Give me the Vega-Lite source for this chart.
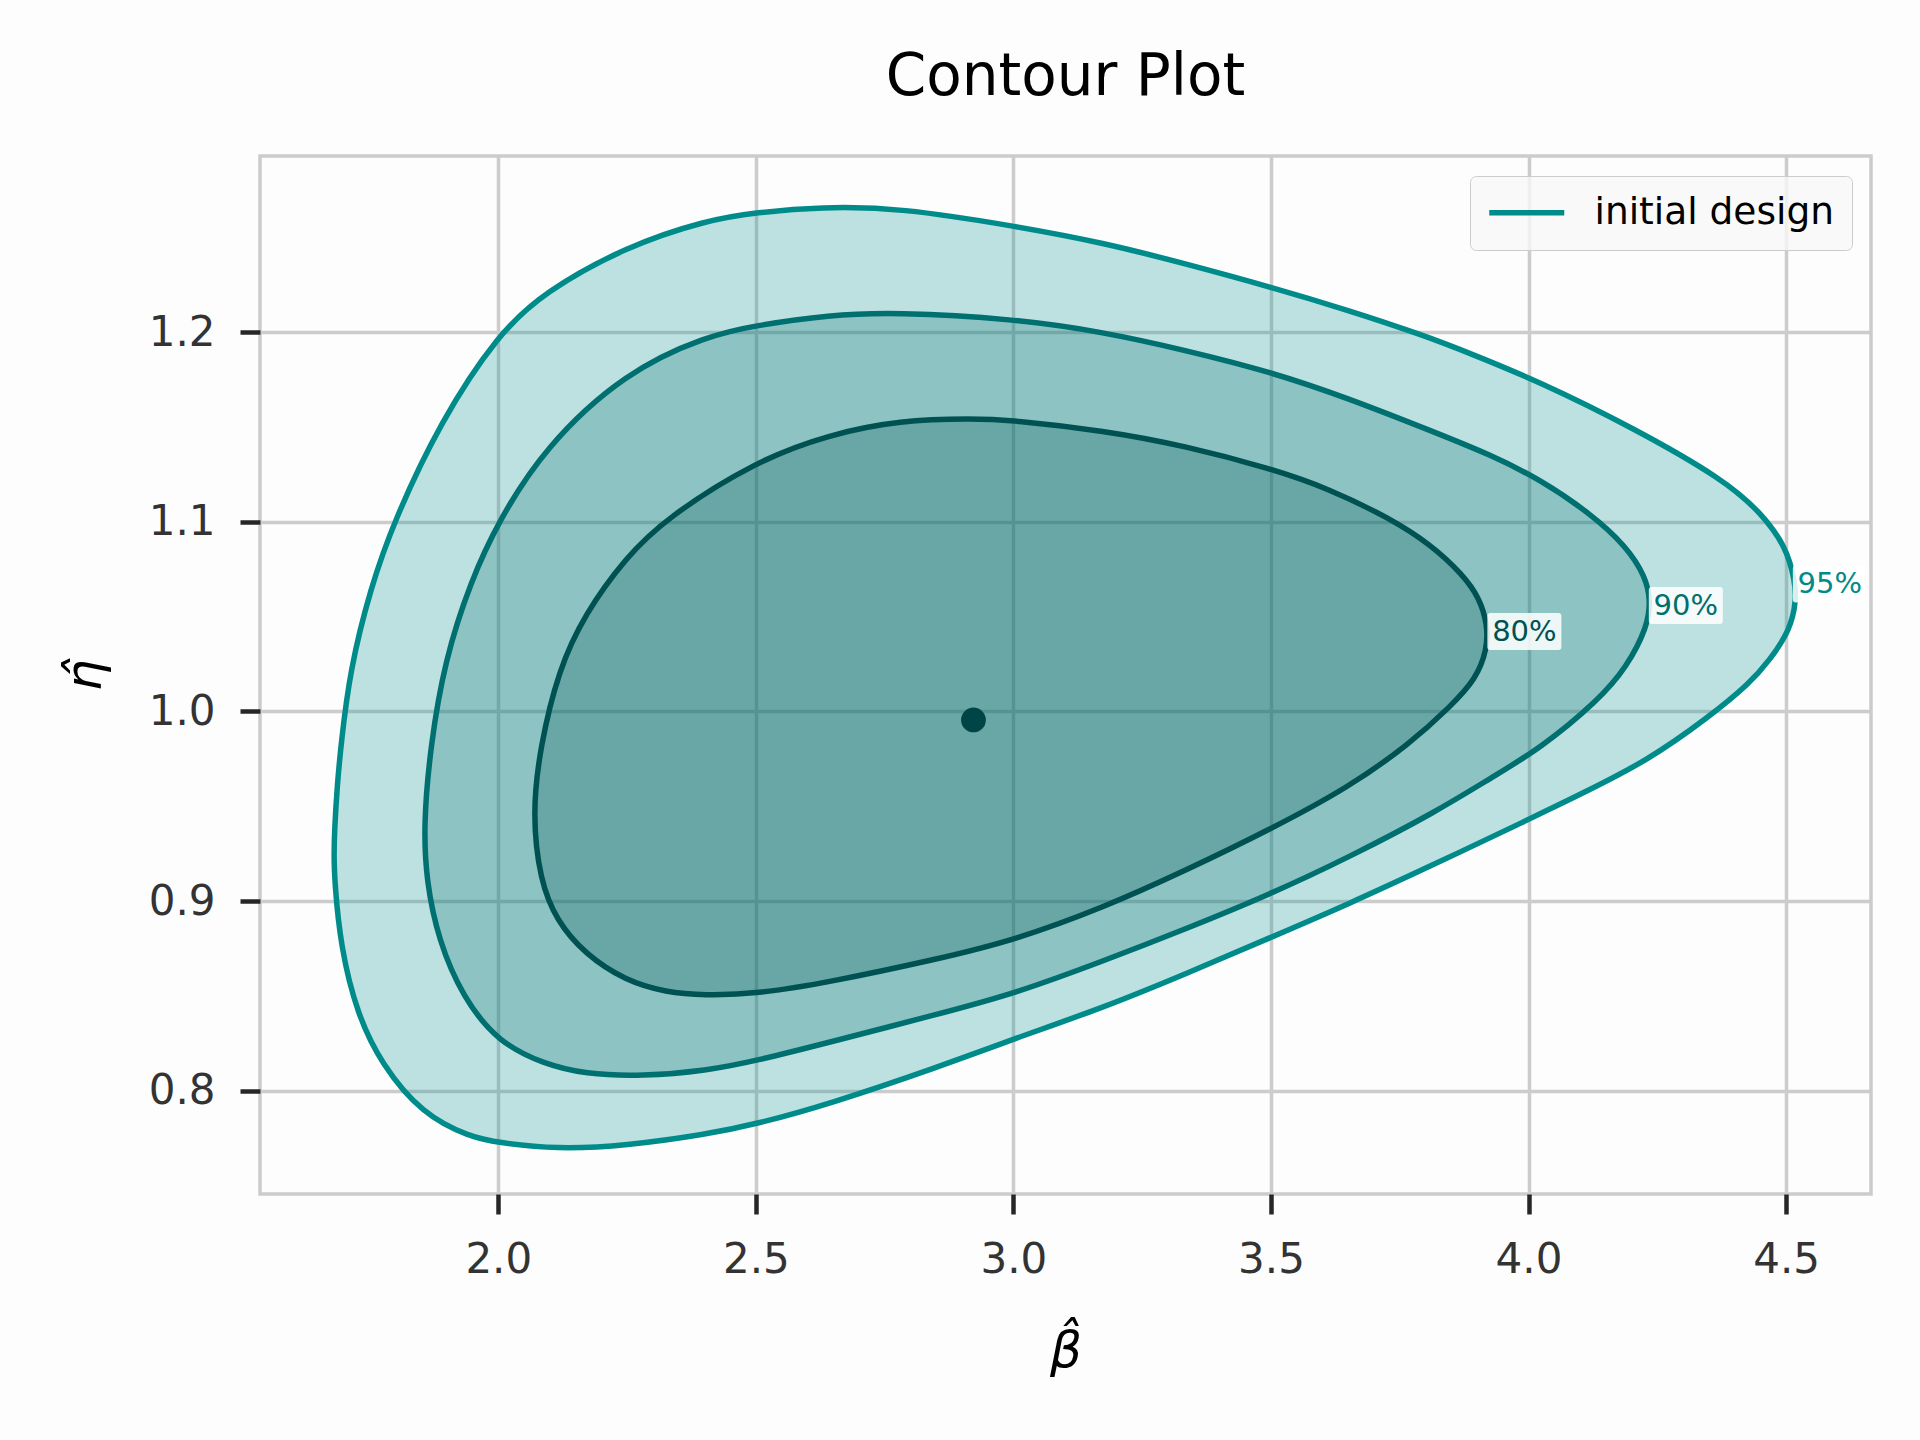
{
  "$schema": "https://vega.github.io/schema/vega-lite/v6.json",
  "width": 1611,
  "height": 1038,
  "autosize": "none",
  "padding": {"left": 260, "top": 156, "right": 49, "bottom": 246},
  "background": "#fdfdfd",
  "title": {
    "text": "Contour Plot",
    "font": "DejaVu Sans",
    "fontSize": 58,
    "fontWeight": "normal",
    "color": "#000000",
    "anchor": "middle",
    "baseline": "alphabetic",
    "offset": 3
  },
  "config": {
    "view": {"stroke": "#cccccc", "strokeWidth": 3.5},
    "axis": {
      "domain": false,
      "grid": true,
      "gridColor": "#cccccc",
      "gridWidth": 3.5,
      "tickColor": "#262626",
      "tickWidth": 4.5,
      "tickSize": 20,
      "labelFont": "DejaVu Sans",
      "labelFontSize": 42,
      "labelColor": "#333333",
      "labelPadding": 25,
      "labelFlush": false,
      "labelOverlap": false,
      "titleFont": "DejaVu Sans",
      "titleFontSize": 50,
      "titleFontStyle": "italic",
      "titleFontWeight": "normal",
      "titleColor": "#000000",
      "titleBaseline": "alphabetic"
    }
  },
  "datasets": {
    "contours": [
      {"level": "95%", "i": 0, "beta": 1.681, "eta": 0.925},
      {"level": "95%", "i": 1, "beta": 1.682, "eta": 0.937},
      {"level": "95%", "i": 2, "beta": 1.687, "eta": 0.960},
      {"level": "95%", "i": 3, "beta": 1.694, "eta": 0.981},
      {"level": "95%", "i": 4, "beta": 1.712, "eta": 1.022},
      {"level": "95%", "i": 5, "beta": 1.752, "eta": 1.065},
      {"level": "95%", "i": 6, "beta": 1.797, "eta": 1.100},
      {"level": "95%", "i": 7, "beta": 1.888, "eta": 1.153},
      {"level": "95%", "i": 8, "beta": 2.000, "eta": 1.199},
      {"level": "95%", "i": 9, "beta": 2.089, "eta": 1.221},
      {"level": "95%", "i": 10, "beta": 2.247, "eta": 1.245},
      {"level": "95%", "i": 11, "beta": 2.405, "eta": 1.259},
      {"level": "95%", "i": 12, "beta": 2.500, "eta": 1.263},
      {"level": "95%", "i": 13, "beta": 2.626, "eta": 1.266},
      {"level": "95%", "i": 14, "beta": 2.780, "eta": 1.2655},
      {"level": "95%", "i": 15, "beta": 3.000, "eta": 1.256},
      {"level": "95%", "i": 16, "beta": 3.176, "eta": 1.247},
      {"level": "95%", "i": 17, "beta": 3.334, "eta": 1.236},
      {"level": "95%", "i": 18, "beta": 3.500, "eta": 1.2237},
      {"level": "95%", "i": 19, "beta": 3.651, "eta": 1.2114},
      {"level": "95%", "i": 20, "beta": 3.794, "eta": 1.1985},
      {"level": "95%", "i": 21, "beta": 3.889, "eta": 1.1885},
      {"level": "95%", "i": 22, "beta": 4.022, "eta": 1.1737},
      {"level": "95%", "i": 23, "beta": 4.200, "eta": 1.150},
      {"level": "95%", "i": 24, "beta": 4.381, "eta": 1.122},
      {"level": "95%", "i": 25, "beta": 4.4525, "eta": 1.1044},
      {"level": "95%", "i": 26, "beta": 4.500, "eta": 1.0868},
      {"level": "95%", "i": 27, "beta": 4.517, "eta": 1.069},
      {"level": "95%", "i": 28, "beta": 4.520, "eta": 1.0587},
      {"level": "95%", "i": 29, "beta": 4.508, "eta": 1.0428},
      {"level": "95%", "i": 30, "beta": 4.468, "eta": 1.027},
      {"level": "95%", "i": 31, "beta": 4.429, "eta": 1.0147},
      {"level": "95%", "i": 32, "beta": 4.350, "eta": 0.997},
      {"level": "95%", "i": 33, "beta": 4.231, "eta": 0.974},
      {"level": "95%", "i": 34, "beta": 4.100, "eta": 0.9562},
      {"level": "95%", "i": 35, "beta": 4.000, "eta": 0.943},
      {"level": "95%", "i": 36, "beta": 3.810, "eta": 0.9185},
      {"level": "95%", "i": 37, "beta": 3.651, "eta": 0.8985},
      {"level": "95%", "i": 38, "beta": 3.500, "eta": 0.8809},
      {"level": "95%", "i": 39, "beta": 3.334, "eta": 0.8616},
      {"level": "95%", "i": 40, "beta": 3.176, "eta": 0.844},
      {"level": "95%", "i": 41, "beta": 3.000, "eta": 0.8273},
      {"level": "95%", "i": 42, "beta": 2.854, "eta": 0.8125},
      {"level": "95%", "i": 43, "beta": 2.642, "eta": 0.793},
      {"level": "95%", "i": 44, "beta": 2.500, "eta": 0.7824},
      {"level": "95%", "i": 45, "beta": 2.405, "eta": 0.7771},
      {"level": "95%", "i": 46, "beta": 2.247, "eta": 0.771},
      {"level": "95%", "i": 47, "beta": 2.113, "eta": 0.7692},
      {"level": "95%", "i": 48, "beta": 2.000, "eta": 0.7727},
      {"level": "95%", "i": 49, "beta": 1.947, "eta": 0.7754},
      {"level": "95%", "i": 50, "beta": 1.852, "eta": 0.7877},
      {"level": "95%", "i": 51, "beta": 1.773, "eta": 0.8141},
      {"level": "95%", "i": 52, "beta": 1.726, "eta": 0.8405},
      {"level": "95%", "i": 53, "beta": 1.694, "eta": 0.8756},
      {"level": "95%", "i": 54, "beta": 1.682, "eta": 0.9108},

      {"level": "90%", "i": 0, "beta": 1.855, "eta": 0.9407},
      {"level": "90%", "i": 1, "beta": 1.868, "eta": 0.9812},
      {"level": "90%", "i": 2, "beta": 1.896, "eta": 1.027},
      {"level": "90%", "i": 3, "beta": 1.947, "eta": 1.069},
      {"level": "90%", "i": 4, "beta": 2.000, "eta": 1.100},
      {"level": "90%", "i": 5, "beta": 2.089, "eta": 1.139},
      {"level": "90%", "i": 6, "beta": 2.247, "eta": 1.179},
      {"level": "90%", "i": 7, "beta": 2.405, "eta": 1.198},
      {"level": "90%", "i": 8, "beta": 2.500, "eta": 1.2035},
      {"level": "90%", "i": 9, "beta": 2.642, "eta": 1.209},
      {"level": "90%", "i": 10, "beta": 2.770, "eta": 1.2105},
      {"level": "90%", "i": 11, "beta": 3.000, "eta": 1.207},
      {"level": "90%", "i": 12, "beta": 3.176, "eta": 1.200},
      {"level": "90%", "i": 13, "beta": 3.334, "eta": 1.1904},
      {"level": "90%", "i": 14, "beta": 3.500, "eta": 1.179},
      {"level": "90%", "i": 15, "beta": 3.651, "eta": 1.165},
      {"level": "90%", "i": 16, "beta": 3.810, "eta": 1.148},
      {"level": "90%", "i": 17, "beta": 3.929, "eta": 1.135},
      {"level": "90%", "i": 18, "beta": 4.024, "eta": 1.122},
      {"level": "90%", "i": 19, "beta": 4.120, "eta": 1.1044},
      {"level": "90%", "i": 20, "beta": 4.191, "eta": 1.0868},
      {"level": "90%", "i": 21, "beta": 4.227, "eta": 1.071},
      {"level": "90%", "i": 22, "beta": 4.237, "eta": 1.0587},
      {"level": "90%", "i": 23, "beta": 4.231, "eta": 1.0446},
      {"level": "90%", "i": 24, "beta": 4.191, "eta": 1.0235},
      {"level": "90%", "i": 25, "beta": 4.136, "eta": 1.0059},
      {"level": "90%", "i": 26, "beta": 4.022, "eta": 0.9803},
      {"level": "90%", "i": 27, "beta": 3.929, "eta": 0.9653},
      {"level": "90%", "i": 28, "beta": 3.820, "eta": 0.947},
      {"level": "90%", "i": 29, "beta": 3.651, "eta": 0.9231},
      {"level": "90%", "i": 30, "beta": 3.500, "eta": 0.9038},
      {"level": "90%", "i": 31, "beta": 3.334, "eta": 0.8853},
      {"level": "90%", "i": 32, "beta": 3.176, "eta": 0.8686},
      {"level": "90%", "i": 33, "beta": 3.000, "eta": 0.851},
      {"level": "90%", "i": 34, "beta": 2.854, "eta": 0.8405},
      {"level": "90%", "i": 35, "beta": 2.642, "eta": 0.8255},
      {"level": "90%", "i": 36, "beta": 2.500, "eta": 0.8158},
      {"level": "90%", "i": 37, "beta": 2.405, "eta": 0.8106},
      {"level": "90%", "i": 38, "beta": 2.279, "eta": 0.8076},
      {"level": "90%", "i": 39, "beta": 2.168, "eta": 0.8088},
      {"level": "90%", "i": 40, "beta": 2.089, "eta": 0.8141},
      {"level": "90%", "i": 41, "beta": 2.000, "eta": 0.8255},
      {"level": "90%", "i": 42, "beta": 1.931, "eta": 0.8493},
      {"level": "90%", "i": 43, "beta": 1.884, "eta": 0.8792},
      {"level": "90%", "i": 44, "beta": 1.860, "eta": 0.9108},

      {"level": "80%", "i": 0, "beta": 2.066, "eta": 0.946},
      {"level": "80%", "i": 1, "beta": 2.081, "eta": 0.9812},
      {"level": "80%", "i": 2, "beta": 2.117, "eta": 1.022},
      {"level": "80%", "i": 3, "beta": 2.168, "eta": 1.0514},
      {"level": "80%", "i": 4, "beta": 2.247, "eta": 1.081},
      {"level": "80%", "i": 5, "beta": 2.326, "eta": 1.102},
      {"level": "80%", "i": 6, "beta": 2.500, "eta": 1.132},
      {"level": "80%", "i": 7, "beta": 2.642, "eta": 1.146},
      {"level": "80%", "i": 8, "beta": 2.780, "eta": 1.1535},
      {"level": "80%", "i": 9, "beta": 2.922, "eta": 1.1544},
      {"level": "80%", "i": 10, "beta": 3.000, "eta": 1.1535},
      {"level": "80%", "i": 11, "beta": 3.176, "eta": 1.148},
      {"level": "80%", "i": 12, "beta": 3.334, "eta": 1.140},
      {"level": "80%", "i": 13, "beta": 3.500, "eta": 1.128},
      {"level": "80%", "i": 14, "beta": 3.612, "eta": 1.1175},
      {"level": "80%", "i": 15, "beta": 3.731, "eta": 1.1018},
      {"level": "80%", "i": 16, "beta": 3.810, "eta": 1.088},
      {"level": "80%", "i": 17, "beta": 3.873, "eta": 1.072},
      {"level": "80%", "i": 18, "beta": 3.905, "eta": 1.0596},
      {"level": "80%", "i": 19, "beta": 3.920, "eta": 1.046},
      {"level": "80%", "i": 20, "beta": 3.920, "eta": 1.033},
      {"level": "80%", "i": 21, "beta": 3.898, "eta": 1.017},
      {"level": "80%", "i": 22, "beta": 3.850, "eta": 1.003},
      {"level": "80%", "i": 23, "beta": 3.770, "eta": 0.983},
      {"level": "80%", "i": 24, "beta": 3.651, "eta": 0.960},
      {"level": "80%", "i": 25, "beta": 3.500, "eta": 0.938},
      {"level": "80%", "i": 26, "beta": 3.334, "eta": 0.9161},
      {"level": "80%", "i": 27, "beta": 3.176, "eta": 0.8967},
      {"level": "80%", "i": 28, "beta": 3.000, "eta": 0.8792},
      {"level": "80%", "i": 29, "beta": 2.854, "eta": 0.8695},
      {"level": "80%", "i": 30, "beta": 2.642, "eta": 0.8572},
      {"level": "80%", "i": 31, "beta": 2.500, "eta": 0.851},
      {"level": "80%", "i": 32, "beta": 2.400, "eta": 0.8503},
      {"level": "80%", "i": 33, "beta": 2.326, "eta": 0.8519},
      {"level": "80%", "i": 34, "beta": 2.247, "eta": 0.858},
      {"level": "80%", "i": 35, "beta": 2.168, "eta": 0.8721},
      {"level": "80%", "i": 36, "beta": 2.113, "eta": 0.8897},
      {"level": "80%", "i": 37, "beta": 2.081, "eta": 0.9108}
    ],
    "labels": [
      {"level": "80%", "beta": 3.992, "eta": 1.0421},
      {"level": "90%", "beta": 4.3054, "eta": 1.0558},
      {"level": "95%", "beta": 4.585, "eta": 1.0672}
    ],
    "center": [
      {"beta": 2.9225, "eta": 0.9955}
    ]
  },
  "encoding": {
    "x": {
      "field": "beta",
      "type": "quantitative",
      "scale": {"domain": [1.5374, 4.6649], "nice": false, "zero": false},
      "axis": {
        "values": [2.0, 2.5, 3.0, 3.5, 4.0, 4.5],
        "format": ".1f",
        "title": "β\u0302",
        "titleX": 805.5,
        "titleY": 172,
        "titleAlign": "center"
      }
    },
    "y": {
      "field": "eta",
      "type": "quantitative",
      "scale": {"domain": [0.7456, 1.2928], "nice": false, "zero": false},
      "axis": {
        "values": [0.8, 0.9, 1.0, 1.1, 1.2],
        "format": ".1f",
        "title": "η\u0302",
        "titleAngle": -90,
        "titleX": -160,
        "titleY": 519,
        "titleAlign": "center"
      }
    }
  },
  "layer": [
    {
      "data": {"name": "contours"},
      "transform": [{"filter": "datum.level === '95%'"}],
      "mark": {
        "type": "line",
        "interpolate": "basis-closed",
        "fill": "#008b8b",
        "fillOpacity": 0.25,
        "strokeWidth": 5.5
      },
      "encoding": {
        "order": {"field": "i", "type": "quantitative"},
        "stroke": {
          "datum": "initial design",
          "type": "nominal",
          "scale": {"range": ["#008b8b"]},
          "legend": {
            "title": null,
            "orient": "none",
            "legendX": 1210,
            "legendY": 20,
            "symbolType": "M-2.5,0H2.5",
            "symbolSize": 900,
            "symbolStrokeWidth": 5.5,
            "symbolOffset": 20,
            "labelFont": "DejaVu Sans",
            "labelFontSize": 37.5,
            "labelColor": "#000000",
            "labelOffset": 49,
            "labelLimit": 500,
            "padding": 18,
            "fillColor": "rgba(247,247,247,0.8)",
            "strokeColor": "#cccccc",
            "cornerRadius": 6
          }
        }
      }
    },
    {
      "data": {"name": "contours"},
      "transform": [{"filter": "datum.level === '90%'"}],
      "mark": {
        "type": "line",
        "interpolate": "basis-closed",
        "stroke": "#006f6f",
        "fill": "#006b6b",
        "fillOpacity": 0.25,
        "strokeWidth": 5.5
      },
      "encoding": {
        "order": {"field": "i", "type": "quantitative"}
      }
    },
    {
      "data": {"name": "contours"},
      "transform": [{"filter": "datum.level === '80%'"}],
      "mark": {
        "type": "line",
        "interpolate": "basis-closed",
        "stroke": "#005252",
        "fill": "#005252",
        "fillOpacity": 0.25,
        "strokeWidth": 5.5
      },
      "encoding": {
        "order": {"field": "i", "type": "quantitative"}
      }
    },
    {
      "data": {"name": "center"},
      "mark": {"type": "point", "filled": true, "color": "#004545", "opacity": 1, "size": 616}
    },
    {
      "data": {"name": "labels"},
      "mark": {
        "type": "point",
        "shape": "M-0.92,-0.5H0.92Q1,-0.5 1,-0.42V0.42Q1,0.5 0.92,0.5H-0.92Q-1,0.5 -1,0.42V-0.42Q-1,-0.5 -0.92,-0.5Z",
        "filled": true,
        "color": "#ffffff",
        "opacity": 0.85,
        "size": 5476,
        "strokeWidth": 0
      }
    },
    {
      "data": {"name": "labels"},
      "mark": {
        "type": "text",
        "font": "DejaVu Sans",
        "fontSize": 29,
        "align": "center",
        "baseline": "middle"
      },
      "encoding": {
        "text": {"field": "level"},
        "color": {
          "field": "level",
          "type": "nominal",
          "scale": {"domain": ["80%", "90%", "95%"], "range": ["#005252", "#006f6f", "#008b8b"]},
          "legend": null
        }
      }
    }
  ]
}
